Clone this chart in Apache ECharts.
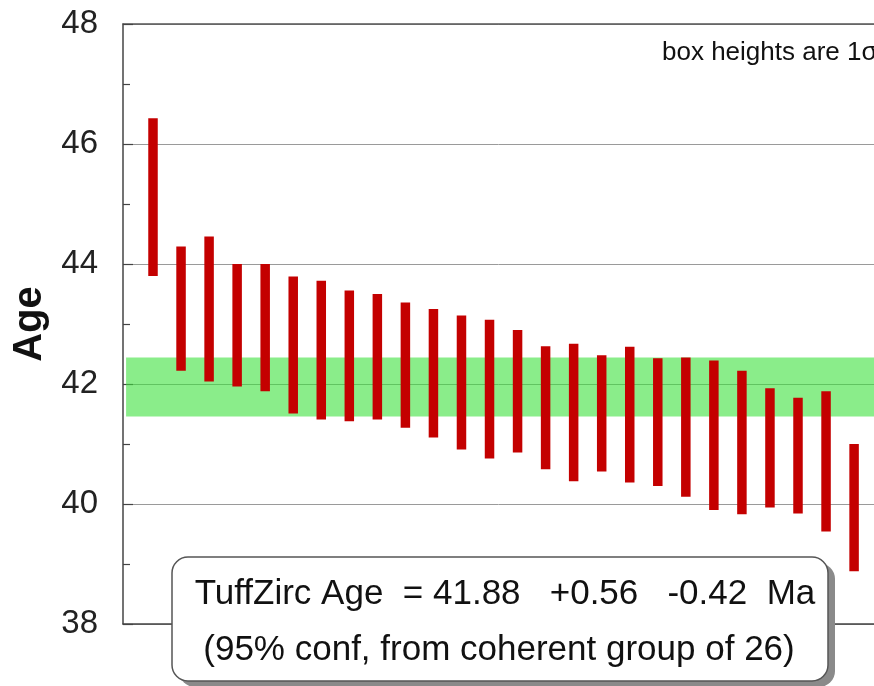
<!DOCTYPE html>
<html>
<head>
<meta charset="utf-8">
<script src="https://cdn.jsdelivr.net/npm/echarts@6/dist/echarts.min.js"></script>
<style>
html,body{margin:0;padding:0;background:#fff;}
#chart{width:874px;height:686px;}
</style>
</head>
<body>
<div id="chart"></div>
<script>
// ---- data ----
const grainIndex = [1,2,3,4,5,6,7,8,9,10,11,12,13,14,15,16,17,18,19,20,21,22,23,24,25,26];
const boxTop = [46.43,44.29,44.46,44.00,44.00,43.79,43.72,43.56,43.50,43.36,43.25,43.14,43.07,42.90,42.63,42.67,42.48,42.62,42.43,42.44,42.39,42.22,41.93,41.77,41.88,41.00];
const boxBottom = [43.80,42.22,42.04,41.96,41.88,41.51,41.41,41.38,41.41,41.27,41.11,40.91,40.76,40.86,40.58,40.38,40.54,40.36,40.30,40.12,39.90,39.83,39.94,39.84,39.54,38.88];
const tuffAge = 41.88;
const plusErr = 0.56;
const minusErr = 0.42;
const groupSize = 26;
const yTicks = [38,40,42,44,46,48];

const FONT = "'Liberation Sans', Arial, sans-serif";
const chart = echarts.init(document.getElementById('chart'), null, {renderer:'canvas'});

const barData = grainIndex.map((x,i)=>[x, boxBottom[i], boxTop[i]]);
const X_MIN = -0.07, X_MAX = 26.71;

chart.setOption({
  animation:false,
  backgroundColor:'#ffffff',
  grid:{left:123, top:24, height:600, right:0, containLabel:false},
  xAxis:[{
    type:'value', min:X_MIN, max:X_MAX, position:'bottom',
    axisLine:{show:true, onZero:false, lineStyle:{color:'#444', width:1.5}},
    axisTick:{show:false}, axisLabel:{show:false}, splitLine:{show:false}
  },{
    type:'value', min:X_MIN, max:X_MAX, position:'top',
    axisLine:{show:true, onZero:false, lineStyle:{color:'#555', width:1.5}},
    axisTick:{show:false}, axisLabel:{show:false}, splitLine:{show:false}
  }],
  yAxis:{
    type:'value', min:yTicks[0], max:yTicks[yTicks.length-1], interval:2,
    name:'Age', nameLocation:'middle', nameGap:72,
    nameTextStyle:{fontFamily:FONT, fontSize:40, fontWeight:'bold', color:'#111'},
    axisLine:{show:true, onZero:false, lineStyle:{color:'#444', width:1.5}},
    axisTick:{show:true, inside:true, length:10, lineStyle:{color:'#444', width:1.2}},
    minorTick:{show:true, splitNumber:2, length:7, lineStyle:{color:'#444', width:1.2}},
    axisLabel:{fontFamily:FONT, fontSize:33, color:'#222', margin:25},
    splitLine:{show:true, lineStyle:{color:'#9a9a9a', width:1}}
  },
  series:[{
    type:'custom',
    xAxisIndex:0,
    data:barData,
    renderItem:function(params, api){
      const x = api.value(0);
      const p1 = api.coord([x, api.value(2)]);
      const p2 = api.coord([x, api.value(1)]);
      const w = 9.5;
      return {type:'rect', shape:{x:p1[0]-w/2, y:p1[1], width:w, height:p2[1]-p1[1]},
              style:{fill:'#c40000'}};
    },
    z:5,
    markArea:{
      silent:true,
      itemStyle:{color:'rgba(60,225,60,0.6)'},
      data:[[{yAxis:tuffAge+plusErr, xAxis:0.04},{yAxis:tuffAge-minusErr, xAxis:X_MAX}]]
    }
  }],
  graphic:[
    {type:'text', left:662, top:40, z:10,
     style:{text:'box heights are 1σ', fontFamily:FONT, fontSize:26, fill:'#111'}},
    {type:'rect', z:19, shape:{x:179, y:563, width:656, height:124, r:16},
     style:{fill:'#8a8a8a'}},
    {type:'rect', z:20, shape:{x:172, y:557, width:656, height:124, r:16},
     style:{fill:'#fff', stroke:'#555', lineWidth:1.5}},
    {type:'text', z:21, x:505, y:594,
     style:{text:'TuffZirc Age  = ' + tuffAge.toFixed(2) + '   +' + plusErr.toFixed(2) + '   -' + minusErr.toFixed(2) + '  Ma',
            fontFamily:FONT, fontSize:35, fill:'#111', align:'center', verticalAlign:'middle'}},
    {type:'text', z:21, x:499, y:650,
     style:{text:'(95% conf, from coherent group of ' + groupSize + ')',
            fontFamily:FONT, fontSize:35, fill:'#111', align:'center', verticalAlign:'middle'}}
  ]
});
</script>
</body>
</html>
